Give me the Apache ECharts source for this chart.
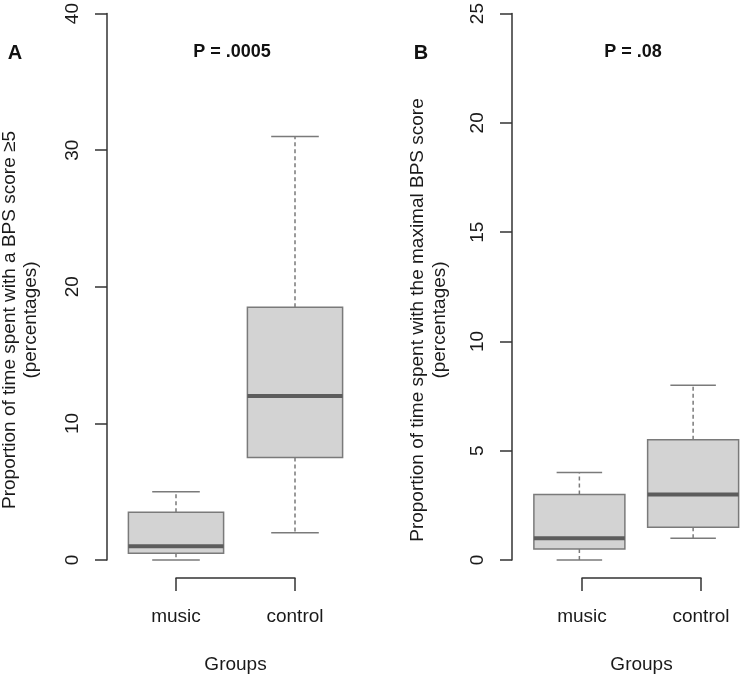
<!DOCTYPE html>
<html>
<head>
<meta charset="utf-8">
<script src="https://cdn.jsdelivr.net/npm/echarts@6/dist/echarts.min.js"></script>
<style>
  html, body { margin: 0; padding: 0; background: #fff; }
  #chart { width: 750px; height: 679px; }
</style>
</head>
<body>
<div id="chart"></div>
<script>
// groups on the x axis
const groups = ['music', 'control']
// five-number summaries: [min, q1, median, q3, max]
const boxA = [[0, 0.5, 1, 3.5, 5], [2, 7.5, 12, 18.5, 31]]
const boxB = [[0, 0.5, 1, 3, 4], [1, 1.5, 3, 5.5, 8]]
// outliers [group, value]
const outliersB = [['control', 20]]
// y ticks
const ticksA = { min: 0, max: 40, interval: 10 }
const ticksB = { min: 0, max: 25, interval: 5 }

const FONT = '"Liberation Sans", Arial, sans-serif'
const axisColor = '#333'
const textColor = '#1a1a1a'
const boxFill = '#d3d3d3'
const boxLine = '#7a7a7a'
const medianColor = '#5c5c5c'

function renderBox (params, api) {
  const x = api.value(0)
  const lo = api.coord([x, api.value(1)])
  const q1 = api.coord([x, api.value(2)])
  const med = api.coord([x, api.value(3)])
  const q3 = api.coord([x, api.value(4)])
  const hi = api.coord([x, api.value(5)])
  const band = api.size([1, 0])[0]
  const bw = band * 0.8
  const cw = bw / 2
  const cx = med[0]
  const dashed = { stroke: boxLine, lineWidth: 1.5, lineDash: [4, 3] }
  const solid = { stroke: boxLine, lineWidth: 1.5 }
  return {
    type: 'group',
    children: [
      // whiskers (dashed)
      { type: 'line', shape: { x1: cx, y1: q3[1], x2: cx, y2: hi[1] }, style: dashed },
      { type: 'line', shape: { x1: cx, y1: q1[1], x2: cx, y2: lo[1] }, style: dashed },
      // caps
      { type: 'line', shape: { x1: cx - cw / 2, y1: hi[1], x2: cx + cw / 2, y2: hi[1] }, style: solid },
      { type: 'line', shape: { x1: cx - cw / 2, y1: lo[1], x2: cx + cw / 2, y2: lo[1] }, style: solid },
      // box
      {
        type: 'rect',
        shape: { x: cx - bw / 2, y: q3[1], width: bw, height: q1[1] - q3[1] },
        style: { fill: boxFill, stroke: boxLine, lineWidth: 1.5 }
      },
      // median
      { type: 'line', shape: { x1: cx - bw / 2, y1: med[1], x2: cx + bw / 2, y2: med[1] }, style: { stroke: medianColor, lineWidth: 4 } }
    ]
  }
}

function mainX (idx) {
  return {
    type: 'category',
    gridIndex: idx,
    data: groups,
    boundaryGap: true,
    axisLine: { show: false },
    axisTick: { show: false },
    axisLabel: { show: false },
    splitLine: { show: false }
  }
}

// R style bracket axis below the plot
function bracketX (idx) {
  return {
    type: 'category',
    gridIndex: idx,
    data: groups,
    boundaryGap: false,
    position: 'bottom',
    offset: 23,
    axisLine: { show: true, onZero: false, lineStyle: { color: axisColor, width: 1.5 } },
    axisTick: { show: true, length: 13, lineStyle: { color: axisColor, width: 1.5 } },
    axisLabel: { show: true, margin: 29, fontSize: 19, color: textColor, fontFamily: FONT },
    name: 'Groups',
    nameLocation: 'middle',
    nameGap: 77,
    nameTextStyle: { fontSize: 19, color: textColor, fontFamily: FONT },
    splitLine: { show: false }
  }
}

function valueY (idx, t, offset) {
  return {
    type: 'value',
    gridIndex: idx,
    min: t.min,
    max: t.max,
    interval: t.interval,
    offset: offset,
    axisLine: { show: true, onZero: false, lineStyle: { color: axisColor, width: 1.5 } },
    axisTick: { show: true, length: 12, lineStyle: { color: axisColor, width: 1.5 } },
    axisLabel: { rotate: 90, margin: 25, fontSize: 19, color: textColor, fontFamily: FONT },
    splitLine: { show: false }
  }
}

function hiddenY (idx) {
  return { type: 'value', gridIndex: idx, show: false, min: 0, max: 1 }
}

function yTitle (x, y, text) {
  return {
    type: 'text',
    x: x,
    y: y,
    rotation: Math.PI / 2,
    style: {
      text: text,
      textAlign: 'center',
      textVerticalAlign: 'middle',
      fontSize: 19,
      fontFamily: FONT,
      fill: textColor
    }
  }
}

function label (x, y, text, size) {
  return {
    type: 'text',
    x: x,
    y: y,
    style: {
      text: text,
      textAlign: 'center',
      textVerticalAlign: 'middle',
      fontSize: size,
      fontWeight: 'bold',
      fontFamily: FONT,
      fill: '#111'
    }
  }
}

const chart = echarts.init(document.getElementById('chart'))
const option = {
  backgroundColor: '#fff',
  animation: false,
  grid: [
    { left: 116.5, top: 12, width: 238, height: 548 },
    { left: 176, top: 12, width: 119, height: 548 },
    { left: 522.5, top: 12, width: 238, height: 548 },
    { left: 582, top: 12, width: 119, height: 548 }
  ],
  xAxis: [mainX(0), bracketX(1), mainX(2), bracketX(3)],
  yAxis: [valueY(0, ticksA, 9.5), hiddenY(1), valueY(2, ticksB, 10.5), hiddenY(3)],
  series: [
    {
      type: 'custom',
      xAxisIndex: 0,
      yAxisIndex: 0,
      renderItem: renderBox,
      encode: { x: 0, y: [1, 2, 3, 4, 5] },
      data: boxA.map((d, i) => [i].concat(d)),
      clip: false
    },
    {
      type: 'custom',
      xAxisIndex: 2,
      yAxisIndex: 2,
      renderItem: renderBox,
      encode: { x: 0, y: [1, 2, 3, 4, 5] },
      data: boxB.map((d, i) => [i].concat(d)),
      clip: false
    },
    {
      type: 'scatter',
      xAxisIndex: 2,
      yAxisIndex: 2,
      symbol: 'emptyCircle',
      symbolSize: 10,
      itemStyle: { color: '#fff', borderColor: boxLine, borderWidth: 1.5 },
      data: outliersB
    }
  ],
  graphic: [
    yTitle(10, 320, 'Proportion of time spent with a BPS score ≥5'),
    yTitle(31, 320, '(percentages)'),
    yTitle(418, 320, 'Proportion of time spent with the maximal BPS score'),
    yTitle(440, 320, '(percentages)'),
    label(15, 53, 'A', 20),
    label(421, 53, 'B', 20),
    label(232, 52, 'P = .0005', 18),
    label(633, 52, 'P = .08', 18)
  ]
}
chart.setOption(option)
</script>
</body>
</html>
